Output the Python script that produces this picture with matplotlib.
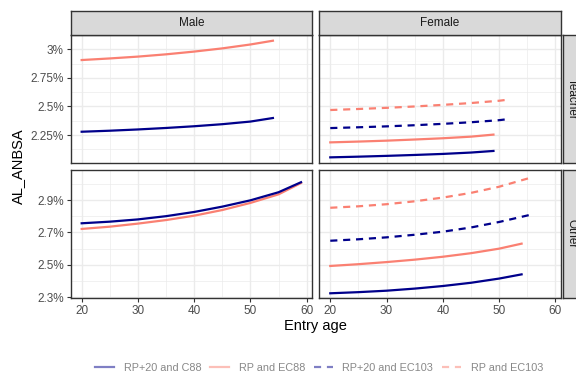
import matplotlib
matplotlib.use("Agg")
import matplotlib.pyplot as plt
from matplotlib.lines import Line2D
from matplotlib.ticker import FixedLocator

plt.rcParams['font.family'] = ['Liberation Sans', 'DejaVu Sans']

NAVY = '#00008B'
SALMON = '#FA8072'

# data (AL_ANBSA in %)
# Male / Teacher
mt_x = [20, 25, 30, 35, 40, 45, 50, 54]
mt_rp20_c88 = [2.279, 2.288, 2.299, 2.312, 2.327, 2.345, 2.368, 2.399]
mt_rp_ec88 = [2.906, 2.920, 2.936, 2.956, 2.980, 3.008, 3.042, 3.075]

# Female / Teacher
ft_x_solid = [20, 25, 30, 35, 40, 45, 49]
ft_rp20_c88 = [2.055, 2.061, 2.068, 2.076, 2.085, 2.097, 2.111]
ft_rp_ec88 = [2.186, 2.193, 2.201, 2.211, 2.222, 2.236, 2.254]
ft_x_dash = [20, 25, 30, 35, 40, 45, 50, 51]
ft_rp20_ec103 = [2.311, 2.318, 2.326, 2.336, 2.348, 2.362, 2.380, 2.386]
ft_rp_ec103 = [2.469, 2.478, 2.488, 2.500, 2.514, 2.530, 2.550, 2.556]

# Male / Other
mo_x = [20, 25, 30, 35, 40, 45, 50, 55, 59]
mo_rp20_c88 = [2.756, 2.766, 2.780, 2.800, 2.826, 2.859, 2.898, 2.948, 3.010]
mo_rp_ec88 = [2.721, 2.735, 2.754, 2.776, 2.803, 2.838, 2.882, 2.935, 3.005]

# Female / Other
fo_x_solid = [20, 25, 30, 35, 40, 45, 50, 54]
fo_rp20_c88 = [2.323, 2.330, 2.339, 2.352, 2.368, 2.388, 2.414, 2.440]
fo_rp_ec88 = [2.492, 2.503, 2.516, 2.531, 2.549, 2.571, 2.599, 2.630]
fo_x_dash = [20, 25, 30, 35, 40, 45, 50, 55, 56]
fo_rp20_ec103 = [2.648, 2.657, 2.669, 2.685, 2.704, 2.730, 2.764, 2.804, 2.813]
fo_rp_ec103 = [2.852, 2.861, 2.874, 2.892, 2.915, 2.944, 2.982, 3.032, 3.044]

legend_labels = ['RP+20 and C88', 'RP and EC88', 'RP+20 and EC103', 'RP and EC103']

top_ticks = [2.25, 2.5, 2.75, 3.0]
top_ticklabels = ['2.25%', '2.5%', '2.75%', '3%']
bot_ticks = [2.3, 2.5, 2.7, 2.9]
bot_ticklabels = ['2.3%', '2.5%', '2.7%', '2.9%']
x_ticks = [20, 30, 40, 50, 60]

W, H = 576, 375
fig = plt.figure(figsize=(W / 100, H / 100), dpi=100)


def px_axes(x0, y0, x1, y1):
    # pixel box (top-left origin) -> figure axes
    return fig.add_axes([x0 / W, 1 - y1 / H, (x1 - x0) / W, (y1 - y0) / H])


cols = [(70.7, 312.0), (319.3, 560.7)]
rows = [(35.0, 163.3), (170.0, 297.7)]
grey20 = '#333333'
grid_c = '#EBEBEB'


def style_panel(ax, yticks, ylim, left, bottom, ylabels):
    ax.set_xlim(18.05, 60.95)
    ax.set_ylim(*ylim)
    ax.set_xticks(x_ticks)
    ax.xaxis.set_minor_locator(FixedLocator([15, 25, 35, 45, 55]))
    ax.set_yticks(yticks)
    step = yticks[1] - yticks[0]
    ax.yaxis.set_minor_locator(FixedLocator([t - step / 2 for t in yticks] + [yticks[-1] + step / 2]))
    ax.grid(True, which='major', color=grid_c, linewidth=1.0)
    ax.grid(True, which='minor', color=grid_c, linewidth=0.5)
    ax.set_axisbelow(True)
    for s in ax.spines.values():
        s.set_color(grey20)
        s.set_linewidth(1.0)
    ax.tick_params(which='minor', length=0)
    ax.tick_params(which='major', length=3, width=0.8, color=grey20,
                   labelsize=8.5, labelcolor='#4D4D4D', pad=2)
    if left:
        ax.set_yticklabels(ylabels)
    else:
        ax.tick_params(axis='y', which='both', left=False, labelleft=False)
    if not bottom:
        ax.tick_params(axis='x', which='both', bottom=False, labelbottom=False)


lw = 1.6
dash = (3.2, 2.6)
top_lim = (2.003, 3.125)
bot_lim = (2.2957, 3.0856)

ax_mt = px_axes(cols[0][0], rows[0][0], cols[0][1], rows[0][1])
ax_mt.plot(mt_x, mt_rp20_c88, color=NAVY, lw=lw)
ax_mt.plot(mt_x, mt_rp_ec88, color=SALMON, lw=lw)
style_panel(ax_mt, top_ticks, top_lim, True, False, top_ticklabels)

ax_ft = px_axes(cols[1][0], rows[0][0], cols[1][1], rows[0][1])
ax_ft.plot(ft_x_solid, ft_rp20_c88, color=NAVY, lw=lw)
ax_ft.plot(ft_x_solid, ft_rp_ec88, color=SALMON, lw=lw)
ax_ft.plot(ft_x_dash, ft_rp20_ec103, color=NAVY, lw=lw, dashes=dash)
ax_ft.plot(ft_x_dash, ft_rp_ec103, color=SALMON, lw=lw, dashes=dash)
style_panel(ax_ft, top_ticks, top_lim, False, False, top_ticklabels)

ax_mo = px_axes(cols[0][0], rows[1][0], cols[0][1], rows[1][1])
ax_mo.plot(mo_x, mo_rp_ec88, color=SALMON, lw=lw)
ax_mo.plot(mo_x, mo_rp20_c88, color=NAVY, lw=lw)
style_panel(ax_mo, bot_ticks, bot_lim, True, True, bot_ticklabels)

ax_fo = px_axes(cols[1][0], rows[1][0], cols[1][1], rows[1][1])
ax_fo.plot(fo_x_solid, fo_rp20_c88, color=NAVY, lw=lw)
ax_fo.plot(fo_x_solid, fo_rp_ec88, color=SALMON, lw=lw)
ax_fo.plot(fo_x_dash, fo_rp20_ec103, color=NAVY, lw=lw, dashes=dash)
ax_fo.plot(fo_x_dash, fo_rp_ec103, color=SALMON, lw=lw, dashes=dash)
style_panel(ax_fo, bot_ticks, bot_lim, False, True, bot_ticklabels)


def strip(x0, y0, x1, y1, label, rot=0, tx=0.5):
    sa = px_axes(x0, y0, x1, y1)
    sa.set_facecolor('#D9D9D9')
    sa.set_xticks([])
    sa.set_yticks([])
    for s in sa.spines.values():
        s.set_color(grey20)
        s.set_linewidth(1.0)
    sa.text(tx, 0.5, label, transform=sa.transAxes, ha='center', va='center',
            rotation=rot, fontsize=8.5, color='#1A1A1A')


strip(cols[0][0], 11, cols[0][1], 35, 'Male')
strip(cols[1][0], 11, cols[1][1], 35, 'Female')
# right strips run off the edge of the figure, as in the original
strip(562.7, rows[0][0], 587, rows[0][1], 'Teacher', rot=-90, tx=0.38)
strip(562.7, rows[1][0], 587, rows[1][1], 'Other', rot=-90, tx=0.38)

fig.text(18 / W, 1 - 166 / H, 'AL_ANBSA', rotation=90, ha='center', va='center',
         fontsize=10.5, color='black')
fig.text(315.7 / W, 1 - 326 / H, 'Entry age', ha='center', va='center',
         fontsize=10.5, color='black')

handles = [
    Line2D([], [], color=NAVY, lw=lw, alpha=0.5),
    Line2D([], [], color=SALMON, lw=lw, alpha=0.5),
    Line2D([], [], color=NAVY, lw=lw, alpha=0.5, dashes=dash),
    Line2D([], [], color=SALMON, lw=lw, alpha=0.5, dashes=dash),
]
leg = fig.legend(handles, legend_labels, loc='center', ncol=4,
                 bbox_to_anchor=(319 / W, 1 - 368 / H), frameon=False,
                 fontsize=7.8, handlelength=1.75, handletextpad=0.9,
                 columnspacing=0.8, labelcolor='#888888')

fig.savefig('out.png', dpi=100)
